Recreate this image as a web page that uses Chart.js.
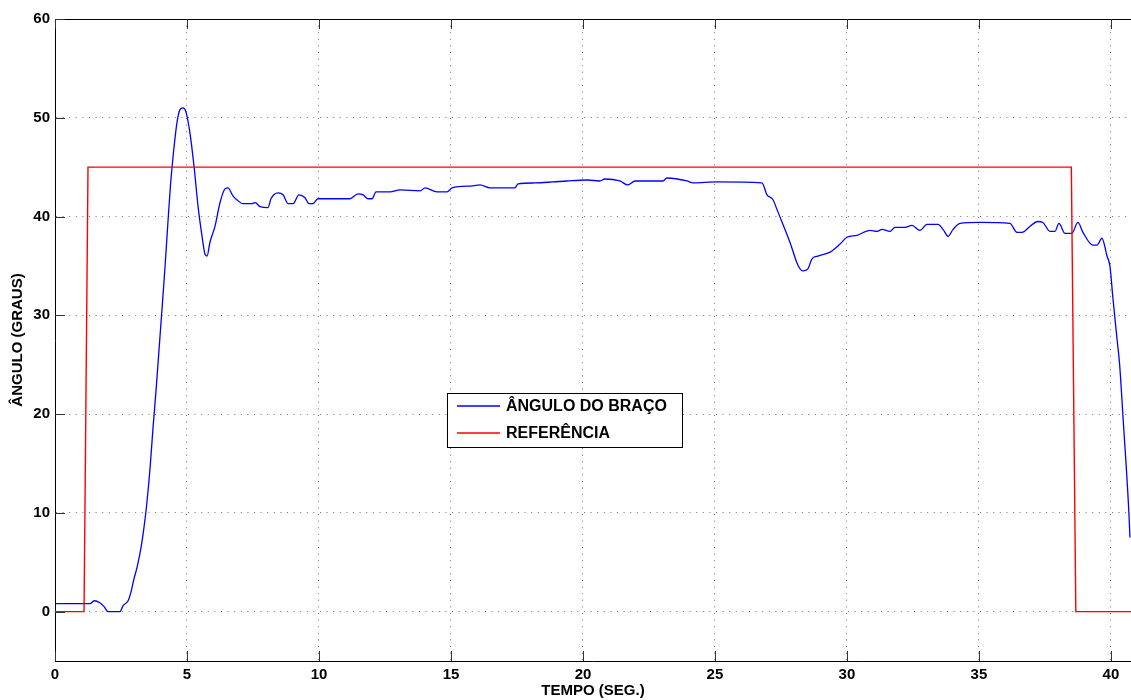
<!DOCTYPE html>
<html>
<head>
<meta charset="utf-8">
<script src="https://cdn.jsdelivr.net/npm/chart.js@4.4.0/dist/chart.umd.min.js"></script>
<style>
  html, body { margin: 0; padding: 0; background: #fff; }
  #wrap { width: 1131px; height: 700px; }
</style>
</head>
<body>
<div id="wrap"><canvas id="grafico"></canvas></div>
<script>
// tempo (s) e angulo do braco (graus)
const tempoBraco = [0, 1.33, 1.48, 1.70, 1.86, 2.01, 2.46, 2.58, 2.77, 2.88, 2.99, 3.11, 3.26, 3.37, 3.48, 3.60,
  3.71, 3.83, 3.94, 4.05, 4.17, 4.28, 4.37, 4.47, 4.62, 4.73, 4.85, 4.96, 5.11, 5.27, 5.42, 5.57, 5.68, 5.76, 5.87,
  6.06, 6.25, 6.44, 6.55, 6.74, 6.89, 7.12, 7.46, 7.58, 7.77, 8.07, 8.18, 8.45, 8.64, 8.83, 9.02, 9.24, 9.47,
  9.62, 9.77, 9.96, 11.17, 11.48, 11.67, 11.86, 12.01, 12.16, 12.69, 13.07, 13.83, 14.02, 14.47, 14.85, 15.04,
  15.83, 16.10, 16.48, 17.42, 17.54, 18.18, 18.86, 19.39, 20.15, 20.64, 20.83, 21.40, 21.70, 21.97, 23.03,
  23.18, 23.94, 24.17, 25.08, 26.78, 26.97, 27.20, 27.35, 27.84, 28.14, 28.33, 28.52, 28.67, 28.90, 29.36,
  29.73, 30.00, 30.38, 30.87, 31.14, 31.33, 31.63, 31.82, 32.20, 32.46, 32.77, 33.03, 33.45, 33.64, 33.83,
  34.02, 34.28, 35.04, 36.17, 36.44, 36.63, 36.93, 37.23, 37.42, 37.69, 37.88, 38.03, 38.26, 38.52, 38.75,
  38.94, 39.32, 39.47, 39.66, 39.85, 39.96, 40.08, 40.23, 40.33, 40.45, 40.68, 40.72];
const anguloBraco = [0.8, 0.8, 1.1, 0.9, 0.5, 0, 0, 0.6, 1.1, 2.0, 3.3, 4.5, 6.5, 8.5, 11, 14.5,
  18.5, 22.5, 26.5, 30.5, 35, 39.5, 43, 46, 49.5, 50.8, 51.0, 50.6, 48.5, 45, 41, 38, 36.2, 36.0, 37.4,
  39, 41.4, 42.8, 42.9, 42.1, 41.7, 41.3, 41.3, 41.4, 41.0, 40.9, 41.8, 42.4, 42.2, 41.3, 41.3, 42.2, 41.9,
  41.3, 41.3, 41.8, 41.8, 42.3, 42.2, 41.8, 41.8, 42.5, 42.5, 42.7, 42.6, 42.9, 42.5, 42.5, 42.9,
  43.1, 43.2, 42.9, 42.9, 43.3, 43.4, 43.5, 43.6, 43.7, 43.6, 43.8, 43.6, 43.2, 43.6, 43.6,
  43.9, 43.6, 43.4, 43.5, 43.4, 42.2, 41.7, 40.7, 37.4, 35.1, 34.5, 34.7, 35.7, 36.0, 36.4,
  37.2, 37.9, 38.1, 38.6, 38.5, 38.7, 38.5, 38.9, 38.9, 39.1, 38.6, 39.2, 39.2, 38.7, 38.0,
  38.7, 39.3, 39.4, 39.3, 38.4, 38.4, 39.0, 39.5, 39.4, 38.5, 38.5, 39.3, 38.3, 38.3, 39.4,
  38.4, 37.1, 37.1, 37.8, 36.0, 35.0, 31.6, 27.6, 25, 20, 10, 7.5];

// referencia (degrau)
const tempoRef = [0, 1.1, 1.25, 38.5, 38.67, 40.76];
const anguloRef = [0, 0, 45, 45, 0, 0];

const ticksTempo = [0, 5, 10, 15, 20, 25, 30, 35, 40];
const ticksAngulo = [0, 10, 20, 30, 40, 50, 60];

const rotulos = ['ÂNGULO DO BRAÇO', 'REFERÊNCIA'];
const cores = ['#0000ff', '#ff0000'];

const fonte = "'Liberation Sans', Arial, Helvetica, sans-serif";

function pares(xs, ys) {
  return xs.map((x, i) => ({ x: x, y: ys[i] }));
}

// moldura superior, marcas de escala para dentro e legenda no meio
const estiloMatlab = {
  id: 'estiloMatlab',
  afterDatasetsDraw(chart) {
    const ctx = chart.ctx;
    const area = chart.chartArea;
    const sx = chart.scales.x;
    const sy = chart.scales.y;
    ctx.save();
    ctx.strokeStyle = '#000';
    ctx.lineWidth = 1;
    ctx.beginPath();
    ctx.moveTo(area.left, area.top + 0.5);
    ctx.lineTo(area.right, area.top + 0.5);
    ctx.stroke();

    ctx.strokeStyle = '#333';
    ctx.beginPath();
    ticksTempo.forEach(v => {
      const px = Math.round(sx.getPixelForValue(v)) + 0.5;
      ctx.moveTo(px, area.bottom);
      ctx.lineTo(px, area.bottom - 10);
      ctx.moveTo(px, area.top);
      ctx.lineTo(px, area.top + 10);
    });
    ticksAngulo.forEach(v => {
      const py = Math.round(sy.getPixelForValue(v)) + 0.5;
      ctx.moveTo(area.left, py);
      ctx.lineTo(area.left + 10, py);
    });
    ctx.stroke();

    // legenda
    const lx = 447.5, ly = 393.5, lw = 235, lh = 54;
    ctx.fillStyle = '#fff';
    ctx.fillRect(lx, ly, lw, lh);
    ctx.strokeStyle = '#000';
    ctx.strokeRect(lx, ly, lw, lh);
    ctx.font = 'bold 16px ' + fonte;
    ctx.textBaseline = 'middle';
    ctx.textAlign = 'left';
    rotulos.forEach((r, i) => {
      const yy = 406 + i * 27;
      ctx.strokeStyle = cores[i];
      ctx.lineWidth = 1.5;
      ctx.beginPath();
      ctx.moveTo(457, yy);
      ctx.lineTo(500, yy);
      ctx.stroke();
      ctx.fillStyle = '#000';
      ctx.fillText(r, 506, yy + 1);
    });
    ctx.restore();
  }
};

new Chart(document.getElementById('grafico'), {
  type: 'line',
  data: {
    datasets: [
      {
        label: rotulos[0],
        data: pares(tempoBraco, anguloBraco),
        borderColor: cores[0],
        borderWidth: 1.3,
        pointRadius: 0,
        cubicInterpolationMode: 'monotone',
        order: 2
      },
      {
        label: rotulos[1],
        data: pares(tempoRef, anguloRef),
        borderColor: cores[1],
        borderWidth: 1.4,
        pointRadius: 0,
        tension: 0,
        order: 1
      }
    ]
  },
  options: {
    responsive: true,
    maintainAspectRatio: false,
    animation: false,
    layout: { padding: { top: 19, right: 0, left: 0, bottom: 0 } },
    plugins: { legend: { display: false }, tooltip: { enabled: false } },
    scales: {
      x: {
        type: 'linear',
        min: 0,
        max: 40.76,
        afterBuildTicks: s => { s.ticks = ticksTempo.map(v => ({ value: v })); },
        afterFit: s => { s.height = 39; },
        grid: { color: 'rgba(0,0,0,0.55)', lineWidth: 1, drawTicks: false },
        border: { display: true, color: '#000', width: 1, dash: [1, 5.6] },
        ticks: { color: '#000', padding: 5, maxRotation: 0, font: { family: fonte, size: 15, weight: 'bold' } },
        title: { display: true, text: 'TEMPO (SEG.)', color: '#000', padding: 0, font: { family: fonte, size: 15, weight: 'bold' } }
      },
      y: {
        min: -5,
        max: 60,
        afterBuildTicks: s => { s.ticks = ticksAngulo.map(v => ({ value: v })); },
        afterFit: s => { s.width = 55; },
        grid: { color: 'rgba(0,0,0,0.55)', lineWidth: 1, drawTicks: false },
        border: { display: true, color: '#000', width: 1, dash: [1, 5.6] },
        ticks: { color: '#000', padding: 5, font: { family: fonte, size: 15, weight: 'bold' } },
        title: { display: true, text: 'ÂNGULO (GRAUS)', color: '#000', padding: { top: 9 }, font: { family: fonte, size: 15, weight: 'bold' } }
      }
    }
  },
  plugins: [estiloMatlab]
});
</script>
</body>
</html>
